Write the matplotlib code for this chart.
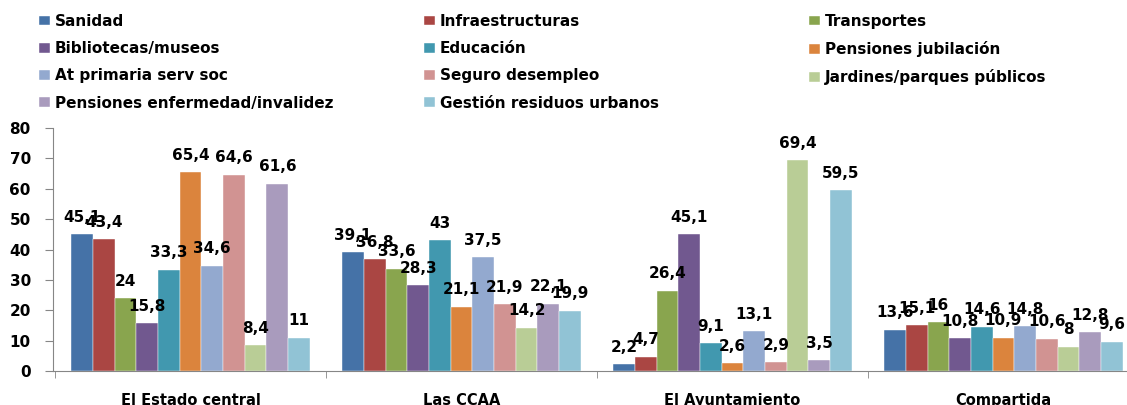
"""Bar chart: which level of government should handle each service."""

import matplotlib

matplotlib.use("Agg")
import matplotlib.pyplot as plt  # noqa: E402
import numpy as np  # noqa: E402

categories = ["El Estado central", "Las CCAA", "El Ayuntamiento", "Compartida"]
series = [
    "Sanidad", "Infraestructuras", "Transportes", "Bibliotecas/museos",
    "Educación", "Pensiones jubilación", "At primaria serv soc",
    "Seguro desempleo", "Jardines/parques públicos",
    "Pensiones enfermedad/invalidez", "Gestión residuos urbanos",
]
colors = [
    "#4572A7", "#AA4643", "#89A54E", "#71588F", "#4198AF", "#DB843D",
    "#93A9CF", "#D19392", "#B9CD96", "#A99BBD", "#91C3D5",
]
# one list per category, in series order
estado = [45.1, 43.4, 24, 15.8, 33.3, 65.4, 34.6, 64.6, 8.4, 61.6, 11]
ccaa = [39.1, 36.8, 33.6, 28.3, 43, 21.1, 37.5, 21.9, 14.2, 22.1, 19.9]
ayuntamiento = [2.2, 4.7, 26.4, 45.1, 9.1, 2.6, 13.1, 2.9, 69.4, 3.5, 59.5]
compartida = [13.6, 15.1, 16, 10.8, 14.6, 10.9, 14.8, 10.6, 8, 12.8, 9.6]
values = np.array([estado, ccaa, ayuntamiento, compartida]).T
yticks = [0, 10, 20, 30, 40, 50, 60, 70, 80]


def fmt(v):
    s = f"{v:.1f}".rstrip("0").rstrip(".")
    return s.replace(".", ",")


W, H = 1127, 405
fig = plt.figure(figsize=(W / 100, H / 100), dpi=100)
ax = fig.add_axes([53 / W, 1 - 371 / H, (W - 53) / W, (371 - 128) / H])

n = len(series)
width = 0.0801
x = np.arange(len(categories))
handles = []
for i in range(n):
    pos = x + (i - (n - 1) / 2) * width
    bars = ax.bar(pos, values[i], width, color=colors[i], label=series[i],
                  edgecolor="white", linewidth=0.3)
    handles.append(bars)
    for px, v in zip(pos, values[i]):
        ax.annotate(fmt(v), (px, v), textcoords="offset points",
                    xytext=(0, 9), ha="center", va="baseline",
                    fontsize=11, fontweight="bold", color="black")

# the plot area runs past the right edge of the picture
ax.set_xlim((53 - 190.5) / 271, (W - 190.5) / 271)
ax.set_ylim(0, 80)
ax.set_yticks(yticks)
ax.set_yticklabels([str(t) for t in yticks], fontsize=11, fontweight="bold")
ax.set_xticks(x)
ax.set_xticklabels(categories, fontsize=10.5, fontweight="bold")
ax.set_xticks([-0.5, 0.5, 1.5, 2.5], minor=True)
ax.tick_params(axis="x", which="major", length=0, pad=16)
ax.tick_params(axis="x", which="minor", length=5, color="#868686")
ax.tick_params(axis="y", length=6, color="#868686", pad=10)
for side in ("top", "right"):
    ax.spines[side].set_visible(False)
for side in ("left", "bottom"):
    ax.spines[side].set_color("#868686")

# Excel fills the legend row by row with equal column widths,
# so each column is its own legend
for col, left in enumerate([39, 424, 809]):
    idx = list(range(col, n, 3))
    fig.legend([handles[k] for k in idx], [series[k] for k in idx],
               loc="upper left", bbox_to_anchor=(left / W, 1 - 14 / H),
               frameon=False, borderpad=0, borderaxespad=0,
               handlelength=0.72, handleheight=0.6, handletextpad=0.3,
               labelspacing=0.8, prop={"size": 11, "weight": "bold"})

fig.savefig("out.png", dpi=100)
